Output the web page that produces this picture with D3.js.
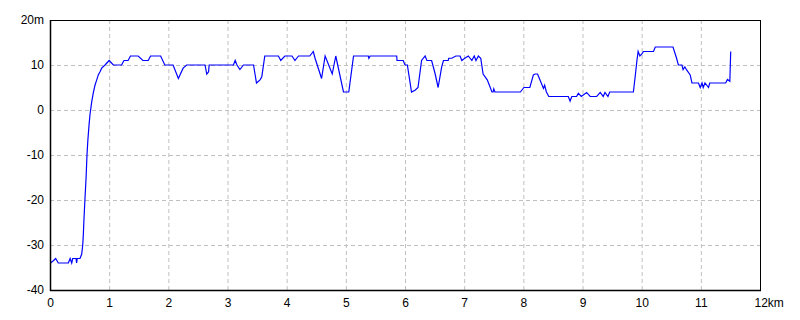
<!DOCTYPE html>
<html><head><meta charset="utf-8">
<script src="https://cdn.jsdelivr.net/npm/d3@7"></script>
<style>body{margin:0;background:#fff}svg text{font-family:"Liberation Sans",Arial,sans-serif;font-size:12px;fill:#000}</style>
</head><body><svg id="c" width="800" height="320"></svg>
<script>
const distKm = [0.01,0.056,0.096,0.14,0.31,0.34,0.367,0.384,0.44,0.45,0.46,0.507,0.536,0.553,0.563,0.575,0.59,0.61,0.625,0.64,0.66,0.676,0.705,0.73,0.76,0.79,0.816,0.845,0.874,0.93,1.0,1.07,1.21,1.25,1.32,1.36,1.49,1.57,1.66,1.70,1.87,1.94,2.08,2.17,2.25,2.31,2.62,2.65,2.68,2.69,3.10,3.13,3.16,3.21,3.27,3.44,3.49,3.55,3.58,3.63,3.86,3.90,3.97,4.09,4.14,4.20,4.39,4.45,4.48,4.59,4.65,4.77,4.83,4.96,5.05,5.13,5.38,5.39,5.41,5.86,5.865,5.97,6.0,6.04,6.11,6.17,6.22,6.28,6.34,6.37,6.45,6.51,6.56,6.62,6.65,6.73,6.74,6.79,6.86,6.93,6.96,7.01,7.07,7.13,7.17,7.20,7.24,7.28,7.32,7.39,7.47,7.49,7.50,7.52,7.95,8.01,8.11,8.17,8.20,8.24,8.28,8.34,8.36,8.39,8.43,8.76,8.79,8.82,8.90,8.93,8.98,9.07,9.13,9.24,9.30,9.35,9.38,9.43,9.46,9.72,9.86,9.89,9.92,9.94,9.97,10.0,10.03,10.20,10.23,10.53,10.59,10.62,10.68,10.70,10.73,10.76,10.82,10.85,10.96,10.99,11.02,11.04,11.07,11.13,11.15,11.42,11.45,11.49,11.505];
const heightM = [-34,-33.5,-33,-34,-34,-33,-34,-33,-33,-34,-33,-33,-32,-30,-27.8,-24,-20,-15,-10,-6.7,-3.3,-1,1.8,3.7,5.5,6.7,7.8,8.5,9.3,10,11,10,10,11,11,12,12,11,11,12,12,10,10,7,9.3,10,10,8,8.5,10,10,11,10,9,10,10,6,6.7,7.4,12,12,11,12,12,11,12,12,13,11.5,7,12,8,12,4,4,12,12,11.5,12,12,11,11,10,10,4,4.4,5,11,12,11,11,8,5,9.6,11,11,11.5,11.5,12,12,11,11.5,12,11,12,11,12,11.5,8,6.7,4,4,4.7,4,4,5,5,7.8,8,8,6.7,4.8,5.5,4,3,3,2,3,3,3.7,3,3.9,3,3,3.9,3,3.9,3,4,4,4,7.4,11,13,12,12.4,13,13,14,14,11.5,10,10,9,9.6,8.9,7.8,6,6,5,6,5,6,5,6,6,6.8,6.4,13];
const xTicks = [0,1,2,3,4,5,6,7,8,9,10,11,12];
const yTicks = [-40,-30,-20,-10,0,10,20];

const svg = d3.select("#c");
const L=50,R=760,T=20,B=290;
const x = d3.scaleLinear().domain([0,12]).range([L,R]);
const y = d3.scaleLinear().domain([-40,20]).range([B,T]);

const g = svg.append("g");
// grid
g.selectAll("line.vg").data(xTicks.filter(d=>d>0&&d<12)).join("line")
  .attr("x1",d=>x(d)+0.5).attr("x2",d=>x(d)+0.5).attr("y1",T).attr("y2",B)
  .attr("stroke","#c0c0c0").attr("stroke-dasharray","4,3");
g.selectAll("line.hg").data(yTicks.filter(d=>d>-40&&d<20)).join("line")
  .attr("y1",d=>y(d)+0.5).attr("y2",d=>y(d)+0.5).attr("x1",L).attr("x2",R)
  .attr("stroke","#c0c0c0").attr("stroke-dasharray","4,3");

// data line
const pts = distKm.map((d,i)=>[d,heightM[i]]);
svg.append("path").datum(pts)
  .attr("d", d3.line().x(d=>x(d[0])).y(d=>y(d[1])))
  .attr("fill","none").attr("stroke","#0000ff").attr("stroke-width",1.2);

// frame
svg.append("rect").attr("x",L+0.5).attr("y",T+0.5).attr("width",R-L).attr("height",B-T)
  .attr("fill","none").attr("stroke","#000").attr("stroke-width",1);
svg.append("line").attr("x1",L+0.5).attr("x2",L+0.5).attr("y1",T).attr("y2",B+1).attr("stroke","#000").attr("stroke-width",1.5);
svg.append("line").attr("x1",L).attr("x2",R+1).attr("y1",B+0.5).attr("y2",B+0.5).attr("stroke","#000").attr("stroke-width",1.5);

// axes labels
const xa = d3.axisBottom(x).tickValues(xTicks).tickSize(0).tickPadding(8)
  .tickFormat(d=> d===12 ? "12km" : String(d));
const xg = svg.append("g").attr("transform",`translate(0,${B})`).call(xa);
xg.select(".domain").remove();
xg.selectAll("text").attr("font-size",12).attr("fill","#000")
  .filter(d=>d===12).attr("text-anchor","start").attr("dx",-6);

const ya = d3.axisLeft(y).tickValues(yTicks).tickSize(0).tickPadding(6)
  .tickFormat(d=> d===20 ? "20m" : String(d));
const yg = svg.append("g").attr("transform",`translate(${L},0)`).call(ya);
yg.select(".domain").remove();
yg.selectAll("text").attr("font-size",12).attr("fill","#000");
</script></body></html>
